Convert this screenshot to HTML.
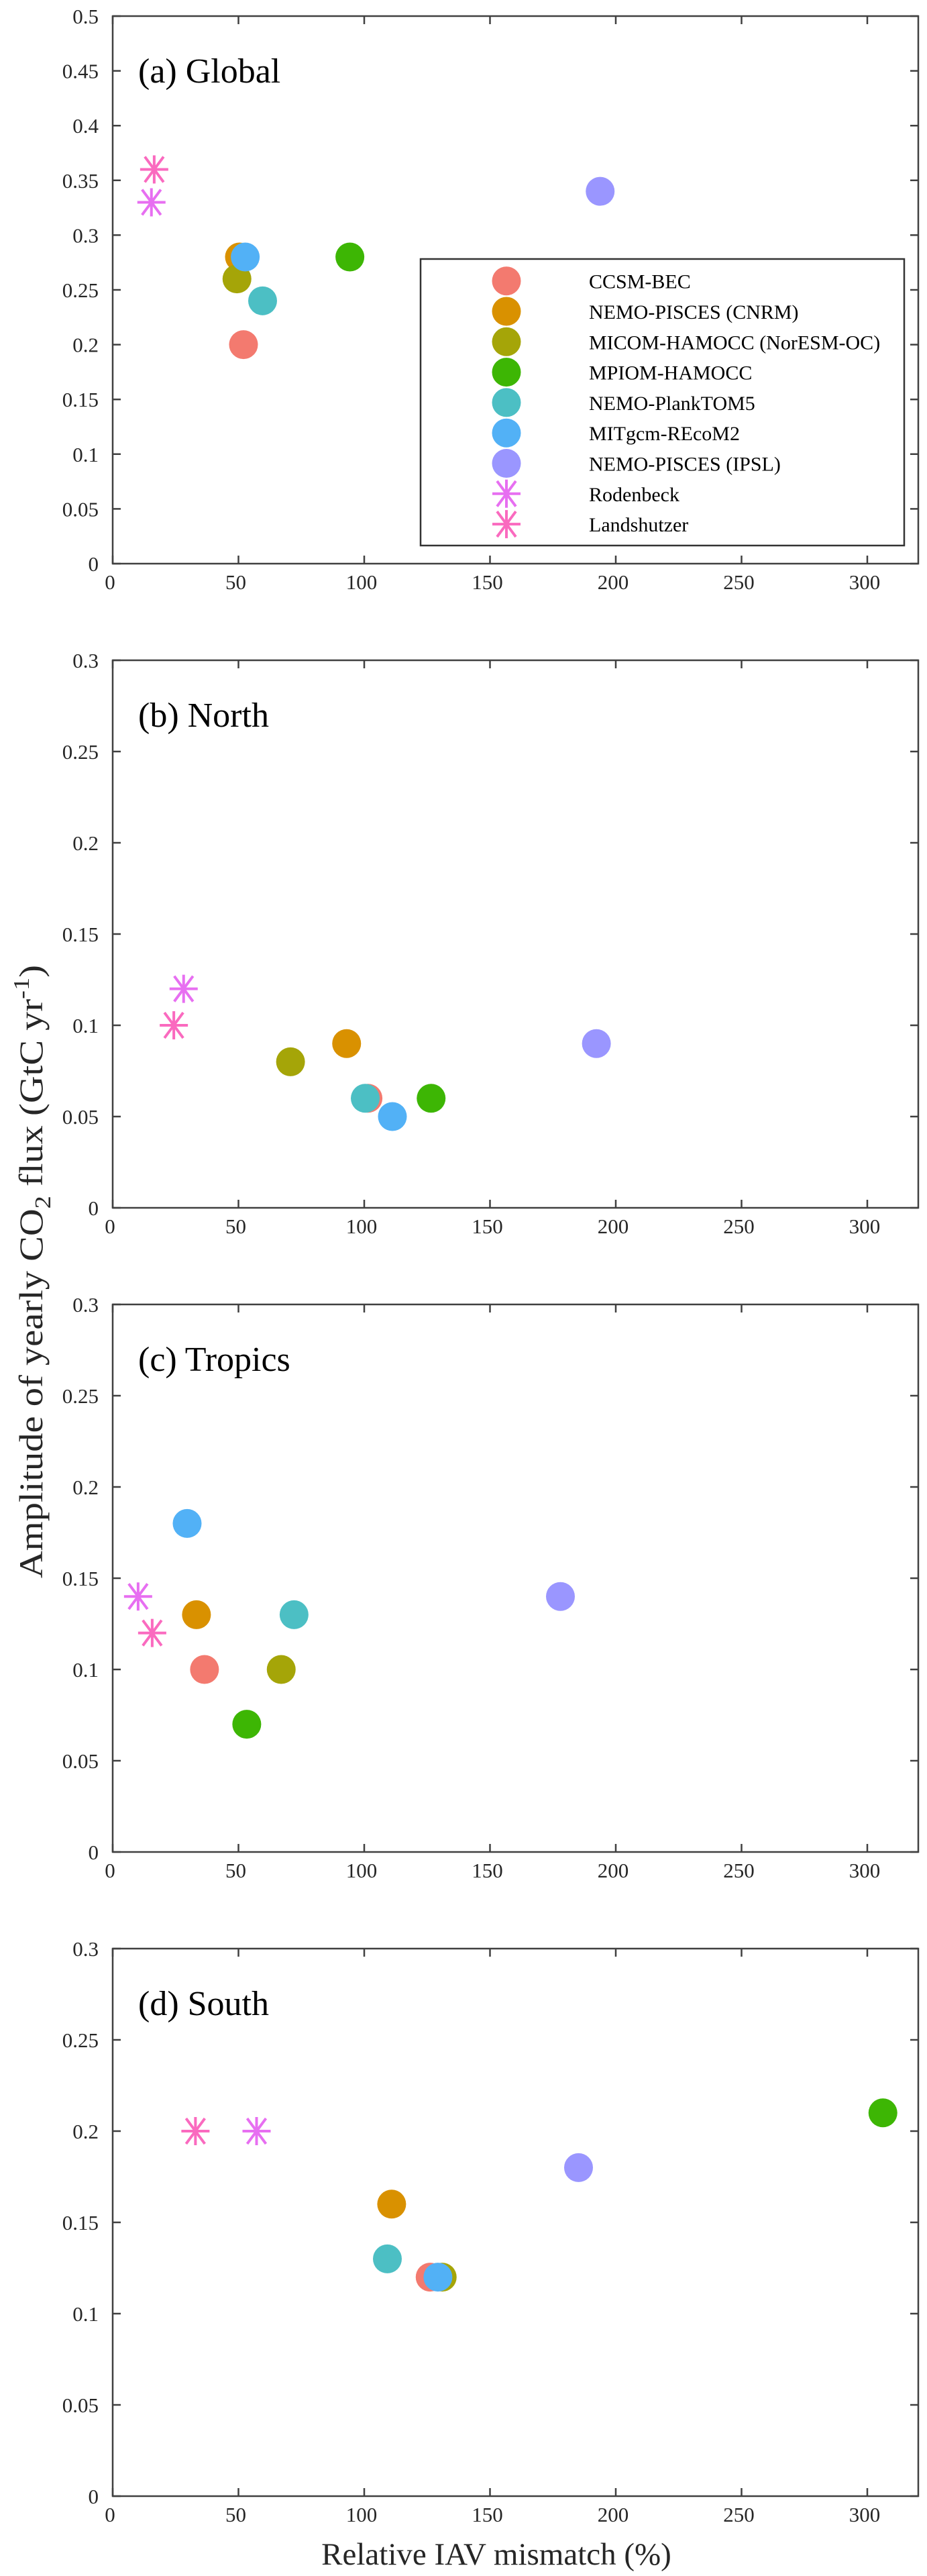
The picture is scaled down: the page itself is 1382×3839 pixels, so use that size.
<!DOCTYPE html>
<html><head><meta charset="utf-8"><style>
html,body{margin:0;padding:0;background:#fff}
svg{display:block}
text{font-family:"Liberation Serif",serif}
</style></head><body>
<svg id="fig" width="1382" height="3839" viewBox="0 0 1382 3839" xmlns="http://www.w3.org/2000/svg">
<text transform="translate(63,1895) rotate(-90)" text-anchor="middle" font-size="50" fill="#262626" textLength="914" lengthAdjust="spacingAndGlyphs">Amplitude of yearly CO<tspan font-size="34" dy="12">2</tspan><tspan dy="-12"> flux (GtC yr</tspan><tspan font-size="34" dy="-20">-1</tspan><tspan dy="20">)</tspan></text>
<text x="740" y="3822" text-anchor="middle" font-size="47" fill="#262626">Relative IAV mismatch (%)</text>
</svg>
<script>
const models = ["CCSM-BEC","NEMO-PISCES (CNRM)","MICOM-HAMOCC (NorESM-OC)","MPIOM-HAMOCC","NEMO-PlankTOM5","MITgcm-REcoM2","NEMO-PISCES (IPSL)","Rodenbeck","Landshutzer"];
const colors = ["#F37A6F","#D99100","#A5A508","#3DB604","#4CBFC4","#52B1F6","#9A96FF","#E76FF1","#FA6ABF"];
const markers = ["o","o","o","o","o","o","o","*","*"];
const panelTitles = ["(a)  Global","(b)  North","(c)  Tropics","(d)  South"];
const panelYMax = [0.5,0.3,0.3,0.3];
const globalX = [52,50.4,49.4,94.3,59.6,52.7,193.8,15.4,16.5];
const globalY = [0.20,0.28,0.26,0.28,0.24,0.28,0.34,0.33,0.36];
const northX = [101.5,93,70.7,126.6,100.4,111.2,192.3,28.2,24.3];
const northY = [0.06,0.09,0.08,0.06,0.06,0.05,0.09,0.12,0.10];
const tropicsX = [36.5,33.3,67,53.3,72.1,29.6,178,10.1,15.7];
const tropicsY = [0.10,0.13,0.10,0.07,0.13,0.18,0.14,0.14,0.12];
const southX = [126.2,110.9,131,306.2,109.2,129.3,185.2,57.2,32.9];
const southY = [0.12,0.16,0.12,0.21,0.13,0.12,0.18,0.20,0.20];
const xTicks = [0,50,100,150,200,250,300];
const panelXs = [globalX,northX,tropicsX,southX];
const panelYs = [globalY,northY,tropicsY,southY];

const NS="http://www.w3.org/2000/svg";
const svg=document.getElementById('fig');
function mk(tag,attrs,parent){const e=document.createElementNS(NS,tag);for(const k in attrs)e.setAttribute(k,attrs[k]);(parent||svg).appendChild(e);return e;}
const L=168,R=1369,XMAX=(R-L)/3.75;
const tops=[24,984,1944,2904],H=816;
function sx(v){return L+v*(R-L)/XMAX;}
function fmt(v){return String(+v.toFixed(2));}
function drawMarker(g,m,c,x,y){
  if(m==="o"){mk('circle',{cx:x,cy:y,r:21.5,fill:c},g);}
  else{
    const r=21,d=14;
    mk('path',{d:`M${x-r},${y}H${x+r}M${x},${y-r}V${y+r}M${x-d},${y-d*1.35}L${x+d},${y+d*1.35}M${x-d},${y+d*1.35}L${x+d},${y-d*1.35}`,stroke:c,'stroke-width':4,fill:'none'},g);
  }
}
for(let p=0;p<4;p++){
  const T=tops[p],B=T+H,ymax=panelYMax[p];
  const sy=v=>B-v/ymax*H;
  const g=mk('g',{});
  
  
  const box=mk('rect',{x:L,y:T,width:R-L,height:H,fill:'none',stroke:'#404040','stroke-width':2.5},g);
  
  
  for(const t of xTicks){
    const x=sx(t);
    mk('path',{d:`M${x},${B}V${B-12}M${x},${T}V${T+12}`,stroke:'#404040','stroke-width':2.5},g);
    const lb=mk('text',{x:x-4,y:B+38,'text-anchor':'middle','font-size':31,fill:'#262626'},g);
    lb.textContent=t;
    
    
  }
  const step=0.05,n=Math.round(ymax/step);
  for(let i=0;i<=n;i++){
    const v=i*step,y=sy(v);
    mk('path',{d:`M${L},${y}H${L+12}M${R},${y}H${R-12}`,stroke:'#404040','stroke-width':2.5},g);
    const lb=mk('text',{x:147,y:y+11,'text-anchor':'end','font-size':31,fill:'#262626'},g);
    lb.textContent=fmt(v);
    
    
  }
  const tt=mk('text',{x:206,y:T+99,'font-size':52,fill:'#000','xml:space':'preserve'},g);
  tt.textContent=panelTitles[p];
  
  
  const xs=panelXs[p],ys=panelYs[p];
  for(let i=0;i<models.length;i++){
    const mg=mk('g',{},g);
    
    
    drawMarker(mg,markers[i],colors[i],sx(xs[i]),sy(ys[i]));
  }
}
// legend
const lg=mk('g',{});


mk('rect',{x:627,y:386,width:721,height:427,fill:'#fff',stroke:'#333','stroke-width':2.5},lg);
for(let i=0;i<models.length;i++){
  const y=418.7+i*45.3;
  const eg=mk('g',{},lg);
  
  
  drawMarker(eg,markers[i],colors[i],755,y);
  const t=mk('text',{x:878,y:y+11,'font-size':30,fill:'#000'},eg);
  t.textContent=models[i];
}
</script>
</body></html>
